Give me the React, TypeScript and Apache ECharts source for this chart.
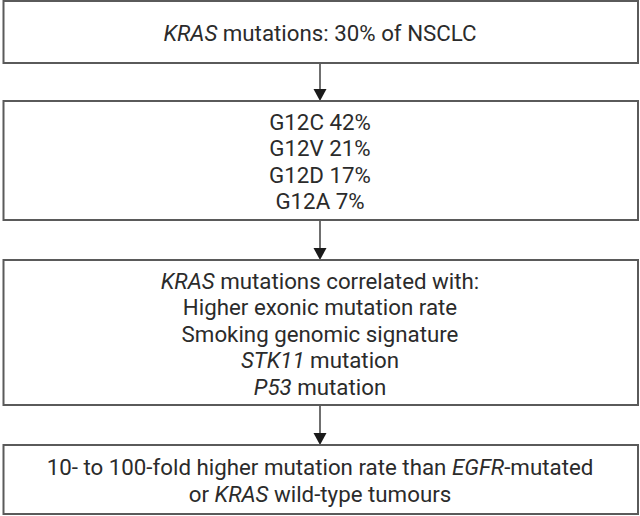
import React, { useEffect, useRef } from "react";
import * as echarts from "echarts";

// Flowchart content (rich-text markup: {i|...} = italic)
const box1Lines = ["{i|KRAS} mutations: 30% of NSCLC"];
const box2Lines = ["G12C 42%", "G12V 21%", "G12D 17%", "G12A 7%"];
const box3Lines = [
  "{i|KRAS} mutations correlated with:",
  "Higher exonic mutation rate",
  "Smoking genomic signature",
  "{i|STK11} mutation",
  "{i|P53} mutation",
];
const box4Lines = [
  "10- to 100-fold higher mutation rate than {i|EGFR}-mutated",
  "or {i|KRAS} wild-type tumours",
];

const FONT = "Roboto, 'Noto Sans', sans-serif";
const TEXT_COLOR = "#2b2b2b";
const BORDER = "#5a5a5a";
const FS = 22.3;

export default function App() {
  const ref = useRef<HTMLDivElement>(null);
  useEffect(() => {
    if (!ref.current) return;
    const chart = echarts.init(ref.current, null, { renderer: "svg" });
    const boxes = [
      { y: 1, h: 62, lines: box1Lines },
      { y: 101, h: 119, lines: box2Lines },
      { y: 260, h: 145, lines: box3Lines },
      { y: 445, h: 69, lines: box4Lines },
    ];
    const left = 3.5;
    const right = 638;
    const cx = 320;
    const lh = 26.5;
    const elements: any[] = [];
    boxes.forEach((b, idx) => {
      elements.push({
        type: "rect",
        shape: { x: left, y: b.y, width: right - left, height: b.h },
        style: { fill: "#fff", stroke: BORDER, lineWidth: 2 },
      });
      elements.push({
        type: "text",
        x: cx,
        y: b.y + b.h / 2 + 1,
        style: {
          text: b.lines.join("\n"),
          fontSize: FS,
          fontFamily: FONT,
          fill: TEXT_COLOR,
          align: "center",
          verticalAlign: "middle",
          lineHeight: lh,
          rich: {
            i: {
              fontStyle: "italic",
              fontSize: FS,
              fontFamily: FONT,
              fill: TEXT_COLOR,
              lineHeight: lh,
            },
          },
        },
      });
      if (idx < boxes.length - 1) {
        const y0 = b.y + b.h + 1;
        const y1 = boxes[idx + 1].y;
        elements.push({
          type: "line",
          shape: { x1: cx, y1: y0, x2: cx, y2: y1 - 10 },
          style: { stroke: "#222", lineWidth: 1.3 },
        });
        elements.push({
          type: "polygon",
          shape: {
            points: [
              [cx - 6.5, y1 - 12],
              [cx + 6.5, y1 - 12],
              [cx, y1],
            ],
          },
          style: { fill: "#1a1a1a" },
        });
      }
    });
    chart.setOption({
      animation: false,
      backgroundColor: "#fff",
      graphic: { elements },
    });
    return () => chart.dispose();
  }, []);
  return (
    <div
      ref={ref}
      style={{ position: "fixed", left: 0, top: 0, width: 640, height: 516 }}
    />
  );
}
